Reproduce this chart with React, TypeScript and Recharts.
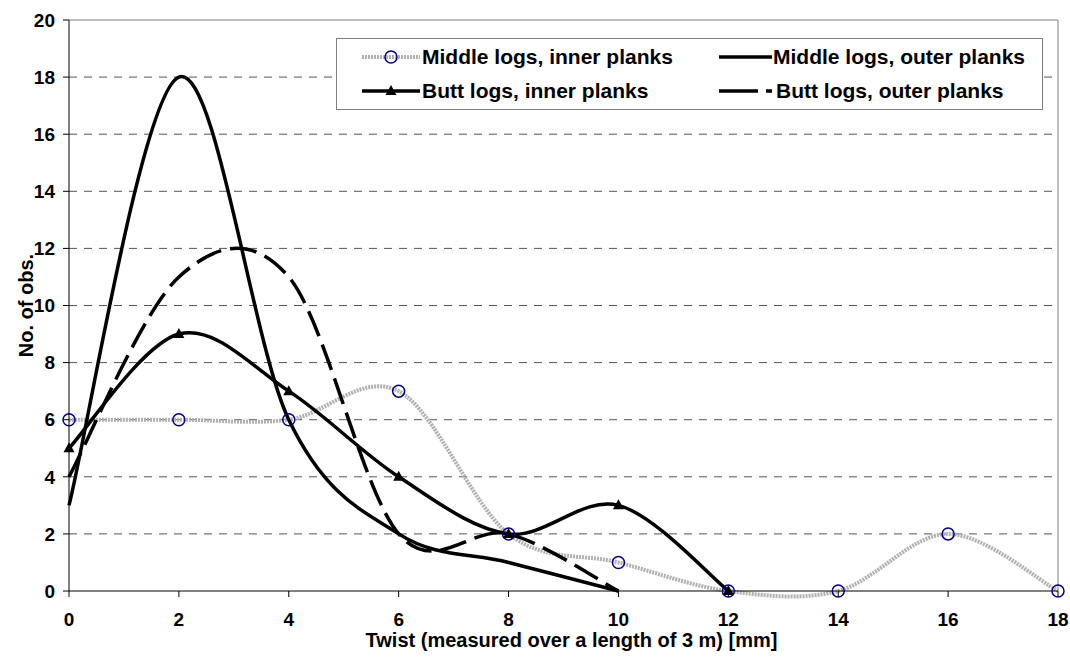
import React from 'react';
import { LineChart, Line, XAxis, YAxis, CartesianGrid, Legend, ReferenceLine } from 'recharts';

const X_VALUES = [0, 2, 4, 6, 8, 10, 12, 14, 16, 18];
const MIDDLE_INNER = [6, 6, 6, 7, 2, 1, 0, 0, 2, 0];
const MIDDLE_OUTER = [3, 18, 6, 2, 1, 0, null, null, null, null];
const BUTT_INNER = [5, 9, 7, 4, 2, 3, 0, null, null, null];
const BUTT_OUTER = [4, 11, 11, 2, 2, 0, null, null, null, null];

const X_TICKS = [0, 2, 4, 6, 8, 10, 12, 14, 16, 18];
const Y_TICKS = [0, 2, 4, 6, 8, 10, 12, 14, 16, 18, 20];

const SERIES_NAMES = [
  'Middle logs, inner planks',
  'Middle logs, outer planks',
  'Butt logs, inner planks',
  'Butt logs, outer planks',
];

const X_TITLE = 'Twist (measured over a length of 3 m) [mm]';
const Y_TITLE = 'No. of obs.';

const FONT = '"Liberation Sans", Arial, Helvetica, sans-serif';
const GRAY = '#b0b0b0';
const NAVY = '#000080';

const data = X_VALUES.map((x, i) => ({
  x,
  mi: MIDDLE_INNER[i],
  mo: MIDDLE_OUTER[i],
  bi: BUTT_INNER[i],
  bo: BUTT_OUTER[i],
}));

// Excel-like smoothed line (Catmull-Rom style bezier)
function excelCurve(context: any) {
  let pts: number[][] = [];
  return {
    areaStart() {},
    areaEnd() {},
    lineStart() {
      pts = [];
    },
    point(x: number, y: number) {
      pts.push([+x, +y]);
    },
    lineEnd() {
      const n = pts.length;
      if (n === 0) return;
      context.moveTo(pts[0][0], pts[0][1]);
      for (let i = 0; i < n - 1; i++) {
        const p0 = pts[Math.max(0, i - 1)];
        const p1 = pts[i];
        const p2 = pts[i + 1];
        const p3 = pts[Math.min(n - 1, i + 2)];
        const c1x = p1[0] + (p2[0] - p0[0]) / 6;
        const c1y = p1[1] + (p2[1] - p0[1]) / 6;
        const c2x = p2[0] - (p3[0] - p1[0]) / 6;
        const c2y = p2[1] - (p3[1] - p1[1]) / 6;
        context.bezierCurveTo(c1x, c1y, c2x, c2y, p2[0], p2[1]);
      }
    },
  };
}

const CircleDot = (props: any) => {
  const { cx, cy } = props;
  if (cx == null || cy == null || isNaN(cy)) return null;
  return <circle cx={cx} cy={cy} r={6} fill="none" stroke={NAVY} strokeWidth={1.5} />;
};

const TriDot = (props: any) => {
  const { cx, cy } = props;
  if (cx == null || cy == null || isNaN(cy)) return null;
  return <path d={`M${cx},${cy - 6} L${cx + 5.5},${cy + 4} L${cx - 5.5},${cy + 4} Z`} fill="#000" />;
};

const XTitle = (props: any) => {
  const vb = props.viewBox || { x: 0, y: 0, width: 0, height: 0 };
  const cx = vb.x + vb.width / 2 + 8;
  const cy = vb.y + 56;
  return (
    <text x={cx} y={cy} textAnchor="middle" fontFamily={FONT} fontWeight="bold" fontSize={20} fill="#000">
      {X_TITLE}
    </text>
  );
};

const YTitle = (props: any) => {
  const vb = props.viewBox || { x: 0, y: 0, width: 0, height: 0 };
  const cx = vb.x + 33;
  const cy = vb.y + vb.height / 2;
  return (
    <text
      x={cx}
      y={cy}
      transform={`rotate(-90, ${cx}, ${cy})`}
      textAnchor="middle"
      fontFamily={FONT}
      fontWeight="bold"
      fontSize={20}
      fill="#000"
    >
      {Y_TITLE}
    </text>
  );
};

const Sample = ({ kind, width }: { kind: number; width: number }) => {
  const h = 16;
  const mid = h / 2;
  return (
    <svg width={width} height={h} style={{ display: 'block' }}>
      {kind === 0 && (
        <>
          <line x1={0} y1={mid} x2={width} y2={mid} stroke={GRAY} strokeWidth={4} strokeDasharray="2 1" />
          <circle cx={width / 2} cy={mid} r={6} fill="none" stroke={NAVY} strokeWidth={1.5} />
        </>
      )}
      {kind === 1 && <line x1={0} y1={mid} x2={width} y2={mid} stroke="#000" strokeWidth={3.5} />}
      {kind === 2 && (
        <>
          <line x1={0} y1={mid} x2={width} y2={mid} stroke="#000" strokeWidth={3.5} />
          <path d={`M${width / 2},${mid - 6} L${width / 2 + 5.5},${mid + 4} L${width / 2 - 5.5},${mid + 4} Z`} fill="#000" />
        </>
      )}
      {kind === 3 && (
        <line x1={0} y1={mid} x2={width} y2={mid} stroke="#000" strokeWidth={3.5} strokeDasharray="39 8" />
      )}
    </svg>
  );
};

const LEGEND_LAYOUT = [
  { kind: 0, left: 26, sw: 58, tl: 86, top: 19 },
  { kind: 1, left: 383, sw: 53, tl: 437, top: 19 },
  { kind: 2, left: 26, sw: 58, tl: 86, top: 53 },
  { kind: 3, left: 383, sw: 53, tl: 440, top: 53 },
];

const LegendBox = () => (
  <div
    style={{
      position: 'relative',
      width: 707,
      height: 72,
      border: '1px solid #808080',
      boxSizing: 'border-box',
      background: '#fff',
      fontFamily: FONT,
      fontWeight: 'bold',
      fontSize: 21,
      color: '#000',
    }}
  >
    {LEGEND_LAYOUT.map((l) => (
      <React.Fragment key={l.kind}>
        <div style={{ position: 'absolute', left: l.left - 1, top: l.top - 1 - 8 }}>
          <Sample kind={l.kind} width={l.sw} />
        </div>
        <div
          style={{
            position: 'absolute',
            left: l.tl - 1,
            top: l.top - 1 - 12,
            height: 24,
            lineHeight: '24px',
            whiteSpace: 'nowrap',
          }}
        >
          {SERIES_NAMES[l.kind]}
        </div>
      </React.Fragment>
    ))}
  </div>
);

export default function App() {
  return (
    <div style={{ position: 'absolute', left: 0, top: 0, width: 1070, height: 660, background: '#fff' }}>
      <LineChart width={1070} height={660} data={data} margin={{ top: 20, right: 12, bottom: 0, left: 0 }}>
        <CartesianGrid vertical={false} stroke="#555" strokeDasharray="8 7" horizontalValues={Y_TICKS.slice(1, -1)} />
        <ReferenceLine y={20} stroke="#808080" strokeWidth={1} />
        <ReferenceLine x={18} stroke="#808080" strokeWidth={1} />
        <XAxis
          dataKey="x"
          type="number"
          domain={[0, 18]}
          ticks={X_TICKS}
          interval={0}
          height={69}
          tickSize={6}
          tickMargin={16}
          axisLine={{ stroke: '#000', strokeWidth: 1 }}
          tickLine={{ stroke: '#000', strokeWidth: 1 }}
          tick={{ fill: '#000', fontFamily: FONT, fontWeight: 'bold', fontSize: 19 }}
          label={{ content: XTitle }}
        />
        <YAxis
          type="number"
          domain={[0, 20]}
          ticks={Y_TICKS}
          interval={0}
          width={69}
          tickSize={6}
          tickMargin={8}
          axisLine={{ stroke: '#000', strokeWidth: 1 }}
          tickLine={{ stroke: '#000', strokeWidth: 1 }}
          tick={{ fill: '#000', fontFamily: FONT, fontWeight: 'bold', fontSize: 19 }}
          label={{ content: YTitle }}
        />
        <Legend
          content={<LegendBox />}
          layout="horizontal"
          verticalAlign="middle"
          align="center"
          wrapperStyle={{ position: 'absolute', left: 336, top: 38, width: 707, height: 72 }}
        />
        <Line
          dataKey="mi"
          type={excelCurve as any}
          stroke={GRAY}
          strokeWidth={4}
          strokeDasharray="2 1"
          dot={<CircleDot />}
          activeDot={false}
          isAnimationActive={false}
        />
        <Line
          dataKey="mo"
          type={excelCurve as any}
          stroke="#000"
          strokeWidth={3.5}
          dot={false}
          activeDot={false}
          isAnimationActive={false}
        />
        <Line
          dataKey="bi"
          type={excelCurve as any}
          stroke="#000"
          strokeWidth={3.5}
          dot={<TriDot />}
          activeDot={false}
          isAnimationActive={false}
        />
        <Line
          dataKey="bo"
          type={excelCurve as any}
          stroke="#000"
          strokeWidth={3.5}
          strokeDasharray="27 9"
          dot={false}
          activeDot={false}
          isAnimationActive={false}
        />
      </LineChart>
    </div>
  );
}
